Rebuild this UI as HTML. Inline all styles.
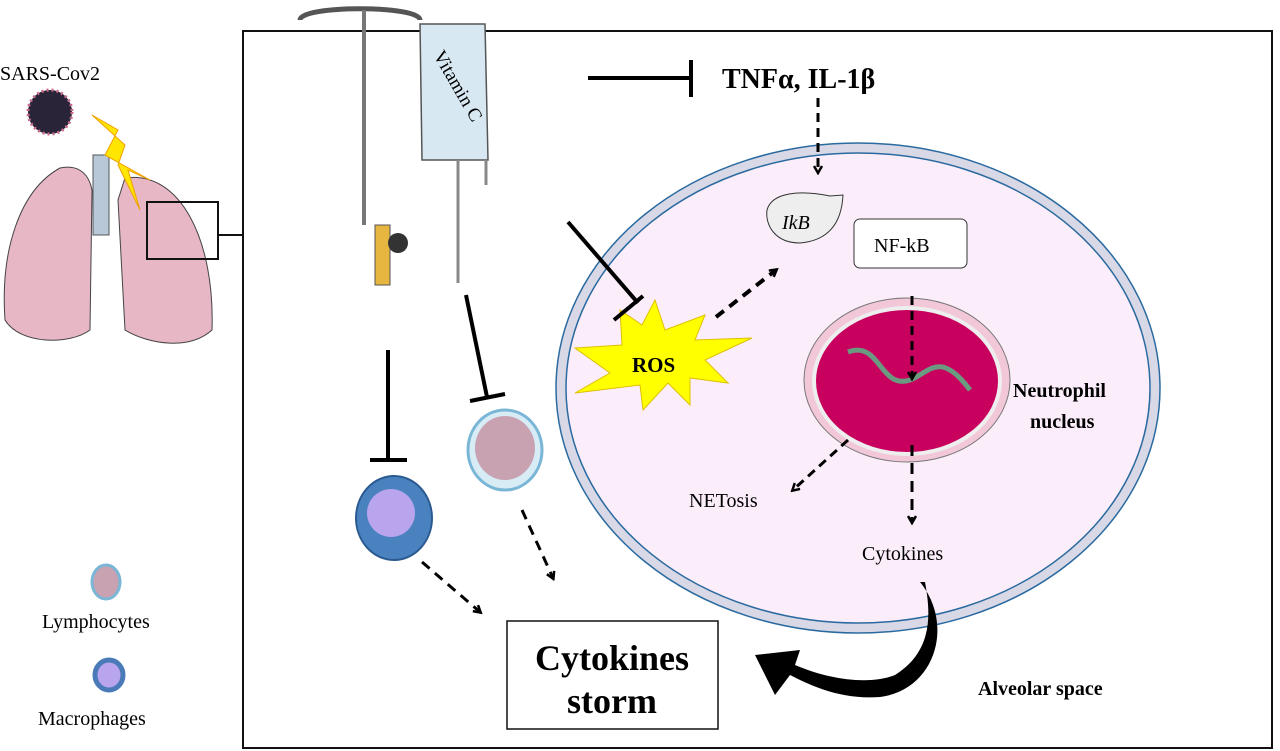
<!DOCTYPE html>
<html><head><meta charset="utf-8"><style>
body{margin:0;background:#fff}
svg{display:block}
text{font-family:"Liberation Serif",serif}
</style></head><body>
<svg width="1280" height="751" viewBox="0 0 1280 751" xmlns="http://www.w3.org/2000/svg">
<defs>
<marker id="ah" markerWidth="10" markerHeight="10" refX="7" refY="5" orient="auto" markerUnits="userSpaceOnUse" viewBox="0 0 10 10">
<path d="M1,1 L8,5 L1,9" fill="none" stroke="#000" stroke-width="2.5"/></marker>
</defs>
<rect x="243" y="31" width="1029" height="717" fill="#fff" stroke="#111" stroke-width="2"/>
<!-- lungs -->
<text x="0" y="80" font-size="20">SARS-Cov2</text>
<circle cx="50" cy="112" r="22" fill="#2a2438" stroke="#c86a8a" stroke-width="3" stroke-dasharray="2 3"/>
<rect x="93" y="155" width="16" height="80" fill="#b8c8d8" stroke="#555"/>
<path d="M60,168 C20,190 0,250 5,320 C20,345 70,345 90,330 L92,190 C88,170 75,165 60,168Z" fill="#e7b7c5" stroke="#444"/>
<path d="M125,178 C180,170 215,240 212,330 C190,350 150,345 125,330 L118,200Z" fill="#e7b7c5" stroke="#444"/>
<path d="M92,115 L118,130 L105,155 L150,180 L128,170 L140,210 L118,165 L125,145 Z" fill="#ffe600" stroke="#f0a000"/>
<rect x="147" y="202" width="71" height="57" fill="none" stroke="#111" stroke-width="2"/>
<line x1="218" y1="235" x2="243" y2="235" stroke="#111" stroke-width="2"/>
<text x="42" y="628" font-size="20">Lymphocytes</text>
<ellipse cx="106" cy="582" rx="14" ry="17" fill="#c9a2b2" stroke="#7ab6d6" stroke-width="3"/>
<ellipse cx="109" cy="675" rx="14" ry="15" fill="#b9a4ee" stroke="#4a7ab8" stroke-width="5"/>
<text x="38" y="725" font-size="20">Macrophages</text>
<!-- IV stand -->
<path d="M300,20 C300,5 420,5 420,20" fill="none" stroke="#555" stroke-width="5"/>
<line x1="364" y1="10" x2="364" y2="225" stroke="#777" stroke-width="4"/>
<rect x="375" y="225" width="15" height="60" fill="#e7b640" stroke="#555"/>
<circle cx="398" cy="243" r="10" fill="#333"/>
<path d="M420,24 L485,24 L488,160 L422,160Z" fill="#d8e8f2" stroke="#555" stroke-width="1.5"/>
<text x="433" y="55" font-size="19" transform="rotate(60 433 55)">Vitamin C</text>
<line x1="458" y1="160" x2="458" y2="283" stroke="#888" stroke-width="3"/>
<line x1="486" y1="160" x2="486" y2="185" stroke="#888" stroke-width="3"/>
<line x1="588" y1="78" x2="691" y2="78" stroke="#000" stroke-width="4"/>
<line x1="691" y1="60" x2="691" y2="97" stroke="#000" stroke-width="4"/>
<text x="722" y="88" font-size="28" font-weight="bold">TNFα, IL-1β</text>
<!-- cell -->
<ellipse cx="858" cy="388" rx="302" ry="245" fill="#d8d8e6" stroke="#2a6aa0" stroke-width="1.5"/>
<ellipse cx="858" cy="388" rx="292" ry="235" fill="#fbeefa" stroke="#2a6aa0" stroke-width="1.5"/>
<line x1="818" y1="98" x2="818" y2="172" stroke="#000" stroke-width="3" stroke-dasharray="9 6" marker-end="url(#ah)"/>
<path d="M830,196 L843,195 C842,215 835,240 800,243 C775,243 765,225 767,210 C772,192 800,190 830,196Z" fill="#eee" stroke="#333"/>
<text x="782" y="229" font-size="20" font-style="italic">IkB</text>
<rect x="854" y="219" width="113" height="49" rx="6" fill="#fff" stroke="#333"/>
<text x="874" y="252" font-size="20">NF-kB</text>
<line x1="716" y1="317" x2="776" y2="270" stroke="#000" stroke-width="4" stroke-dasharray="10 7" marker-end="url(#ah)"/>
<ellipse cx="907" cy="380" rx="103" ry="82" fill="#f2c8d8" stroke="#777"/>
<ellipse cx="907" cy="381" rx="93" ry="73" fill="#c8005e" stroke="#eee" stroke-width="4"/>
<path d="M848,352 C880,340 880,390 910,380 C930,372 940,350 970,390" fill="none" stroke="#6a9a80" stroke-width="5"/>
<line x1="912" y1="296" x2="912" y2="378" stroke="#000" stroke-width="3" stroke-dasharray="9 6" marker-end="url(#ah)"/>
<text x="1013" y="397" font-size="20" font-weight="bold">Neutrophil</text>
<text x="1030" y="428" font-size="20" font-weight="bold">nucleus</text>
<path d="M620,310 L642,325 L655,300 L665,330 L705,315 L695,340 L752,338 L705,360 L728,383 L690,378 L690,405 L668,383 L643,410 L640,385 L575,393 L610,373 L575,348 L622,345Z" fill="#ffff00" stroke="#e0c000"/>
<text x="632" y="372" font-size="21" font-weight="bold">ROS</text>
<line x1="568" y1="222" x2="638" y2="303" stroke="#000" stroke-width="4"/>
<line x1="614" y1="320" x2="643" y2="296" stroke="#000" stroke-width="4"/>
<line x1="848" y1="440" x2="793" y2="490" stroke="#000" stroke-width="3" stroke-dasharray="9 6" marker-end="url(#ah)"/>
<text x="689" y="507" font-size="20">NETosis</text>
<line x1="912" y1="445" x2="912" y2="522" stroke="#000" stroke-width="3" stroke-dasharray="11 7" marker-end="url(#ah)"/>
<text x="862" y="560" font-size="20">Cytokines</text>
<path d="M920,582 C955,625 935,690 880,697 C840,700 810,685 790,675 L775,695 L755,655 L800,650 L795,665 C830,680 870,685 895,675 C935,650 930,610 925,582Z" fill="#000"/>
<text x="978" y="695" font-size="20" font-weight="bold">Alveolar space</text>
<line x1="388" y1="350" x2="388" y2="460" stroke="#000" stroke-width="4"/>
<line x1="370" y1="460" x2="407" y2="460" stroke="#000" stroke-width="4"/>
<line x1="466" y1="295" x2="487" y2="397" stroke="#000" stroke-width="4"/>
<line x1="470" y1="401" x2="505" y2="394" stroke="#000" stroke-width="4"/>
<ellipse cx="505" cy="450" rx="37" ry="40" fill="#d8ecf6" stroke="#7ab6d6" stroke-width="3"/>
<ellipse cx="505" cy="448" rx="30" ry="32" fill="#c9a2b2"/>
<ellipse cx="394" cy="518" rx="38" ry="42" fill="#4a82c0" stroke="#2a5a90" stroke-width="2"/>
<ellipse cx="391" cy="513" rx="24" ry="24" fill="#b9a4ee"/>
<line x1="522" y1="510" x2="553" y2="578" stroke="#000" stroke-width="3" stroke-dasharray="10 7" marker-end="url(#ah)"/>
<line x1="422" y1="562" x2="480" y2="612" stroke="#000" stroke-width="3" stroke-dasharray="10 7" marker-end="url(#ah)"/>
<rect x="507" y="621" width="211" height="108" fill="#fff" stroke="#111" stroke-width="1.5"/>
<text x="612" y="670" font-size="36" font-weight="bold" text-anchor="middle">Cytokines</text>
<text x="612" y="713" font-size="36" font-weight="bold" text-anchor="middle">storm</text>
</svg>
</body></html>
